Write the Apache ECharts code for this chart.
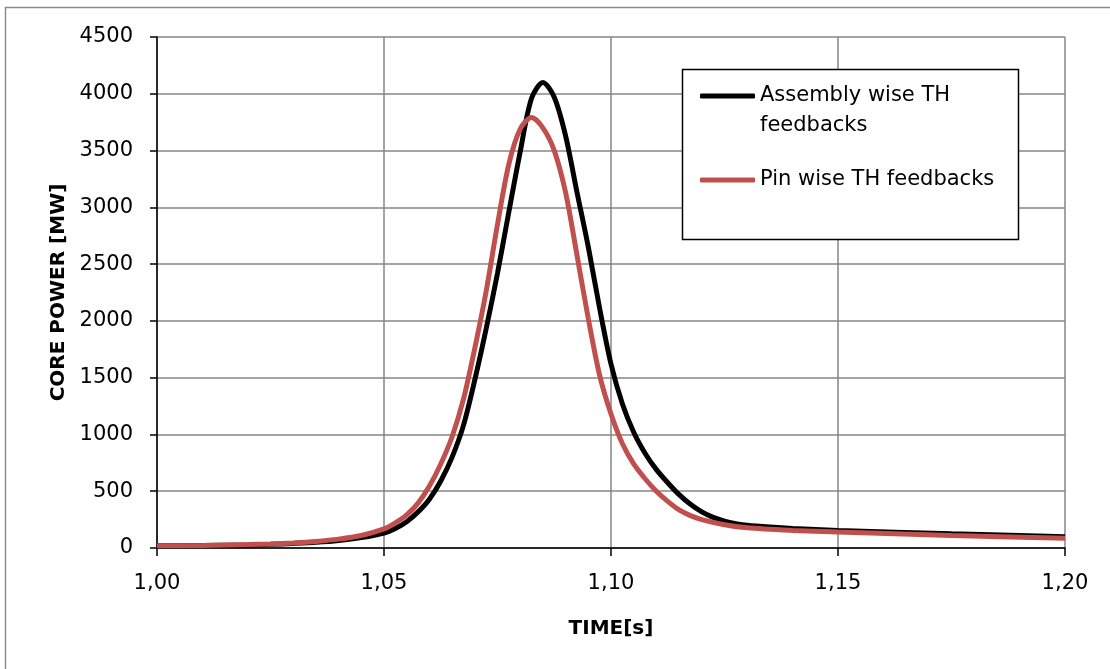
<!DOCTYPE html>
<html>
<head>
<meta charset="utf-8">
<script src="https://cdn.jsdelivr.net/npm/echarts@6/dist/echarts.min.js"></script>
<style>
  html, body { margin: 0; padding: 0; background: #fff; }
  #chart { width: 1110px; height: 669px; }
</style>
</head>
<body>
<div id="chart"></div>
<script>
// values (time in s, power in MW)
var timeAssembly = [1.000, 1.010, 1.020, 1.025, 1.030, 1.035, 1.040, 1.045, 1.050, 1.0525, 1.055, 1.0575, 1.060, 1.0625, 1.065, 1.0675, 1.070, 1.0725, 1.075, 1.0775, 1.080, 1.0825, 1.085, 1.0875, 1.090, 1.0925, 1.095, 1.0975, 1.100, 1.1025, 1.105, 1.1075, 1.110, 1.1125, 1.115, 1.1175, 1.120, 1.1225, 1.125, 1.1275, 1.130, 1.135, 1.140, 1.150, 1.175, 1.200];
var powerAssembly = [20, 21, 27, 32, 40, 50, 66, 92, 132, 172, 232, 318, 430, 590, 800, 1080, 1480, 1930, 2420, 2960, 3490, 3960, 4100, 3970, 3630, 3135, 2650, 2110, 1620, 1270, 1020, 835, 690, 575, 470, 385, 318, 270, 237, 215, 200, 184, 172, 155, 125, 100];

var timePin = [1.000, 1.010, 1.020, 1.025, 1.030, 1.035, 1.040, 1.045, 1.050, 1.0525, 1.055, 1.0575, 1.060, 1.0625, 1.065, 1.0675, 1.070, 1.0725, 1.075, 1.0775, 1.080, 1.0825, 1.085, 1.0875, 1.090, 1.0925, 1.095, 1.0975, 1.100, 1.1025, 1.105, 1.1075, 1.110, 1.1125, 1.115, 1.1175, 1.120, 1.125, 1.130, 1.140, 1.150, 1.175, 1.200];
var powerPin = [20, 22, 30, 36, 45, 58, 78, 110, 168, 222, 292, 395, 545, 740, 980, 1310, 1760, 2260, 2850, 3380, 3690, 3790, 3700, 3500, 3130, 2580, 2020, 1520, 1180, 920, 740, 610, 500, 410, 335, 285, 250, 205, 178, 155, 140, 110, 85];

var seriesNames = ['Assembly wise TH\nfeedbacks', 'Pin wise TH feedbacks'];
var yTicks = { min: 0, max: 4500, step: 500 };
var xTicks = { min: 1.0, max: 1.2, step: 0.05 };

function pairs(xs, ys) {
  var out = [];
  for (var i = 0; i < xs.length; i++) out.push([xs[i], ys[i]]);
  return out;
}

var font = 'DejaVu Sans';
var myChart = echarts.init(document.getElementById('chart'));

var option = {
  backgroundColor: '#fff',
  animation: false,
  grid: { left: 157, right: 45, top: 37, bottom: 121 },
  graphic: [
    { type: 'rect', z: 0, shape: { x: 5.5, y: 7.5, width: 1120, height: 700 },
      style: { fill: 'none', stroke: '#8c8c8c', lineWidth: 1.5 } },
    { type: 'rect', z: 3, shape: { x: 682.5, y: 69.5, width: 336, height: 170 },
      style: { fill: '#fff', stroke: '#000', lineWidth: 1.5 } }
  ],
  legend: {
    z: 4,
    orient: 'vertical',
    left: 700,
    top: 51,
    padding: 0,
    itemGap: 24,
    itemWidth: 55,
    itemHeight: 5,
    icon: 'roundRect',
    textStyle: { fontFamily: font, fontSize: 21, color: '#000', lineHeight: 30 },
    // blank first line so the icon sits beside the first text line
    formatter: function (name) { return name === seriesNames[0] ? ' \n' + name : name; },
    data: seriesNames
  },
  xAxis: {
    type: 'value',
    min: xTicks.min,
    max: xTicks.max,
    interval: xTicks.step,
    name: 'TIME[s]',
    nameLocation: 'middle',
    nameGap: 71,
    nameTextStyle: { fontFamily: font, fontSize: 20, fontWeight: 'bold', color: '#000' },
    axisLine: { lineStyle: { color: '#000', width: 1.5 } },
    axisTick: { show: true, length: 8, lineStyle: { color: '#000', width: 1.5 } },
    axisLabel: {
      margin: 25,
      fontFamily: font, fontSize: 21, color: '#000',
      formatter: function (v) { return v.toFixed(2).replace('.', ','); }
    },
    splitLine: { show: true, lineStyle: { color: '#868686', width: 1.5 } }
  },
  yAxis: {
    type: 'value',
    min: yTicks.min,
    max: yTicks.max,
    interval: yTicks.step,
    name: 'CORE POWER [MW]',
    nameLocation: 'middle',
    nameGap: 84,
    nameTextStyle: { fontFamily: font, fontSize: 20, fontWeight: 'bold', color: '#000' },
    axisLine: { show: true, lineStyle: { color: '#000', width: 1.5 } },
    axisTick: { show: true, length: 7, lineStyle: { color: '#000', width: 1.5 } },
    axisLabel: {
      margin: 24, fontFamily: font, fontSize: 21, color: '#000',
      formatter: function (v) { return String(v); }
    },
    splitLine: { show: true, lineStyle: { color: '#868686', width: 1.5 } }
  },
  series: [
    {
      name: seriesNames[0],
      type: 'line',
      data: pairs(timeAssembly, powerAssembly),
      showSymbol: false,
      symbol: 'none',
      smooth: 0.3,
      color: '#000000',
      lineStyle: { color: '#000000', width: 5 }
    },
    {
      name: seriesNames[1],
      type: 'line',
      data: pairs(timePin, powerPin),
      showSymbol: false,
      symbol: 'none',
      smooth: 0.3,
      color: '#c0504d',
      lineStyle: { color: '#c0504d', width: 5 }
    }
  ]
};

myChart.setOption(option);
</script>
</body>
</html>
